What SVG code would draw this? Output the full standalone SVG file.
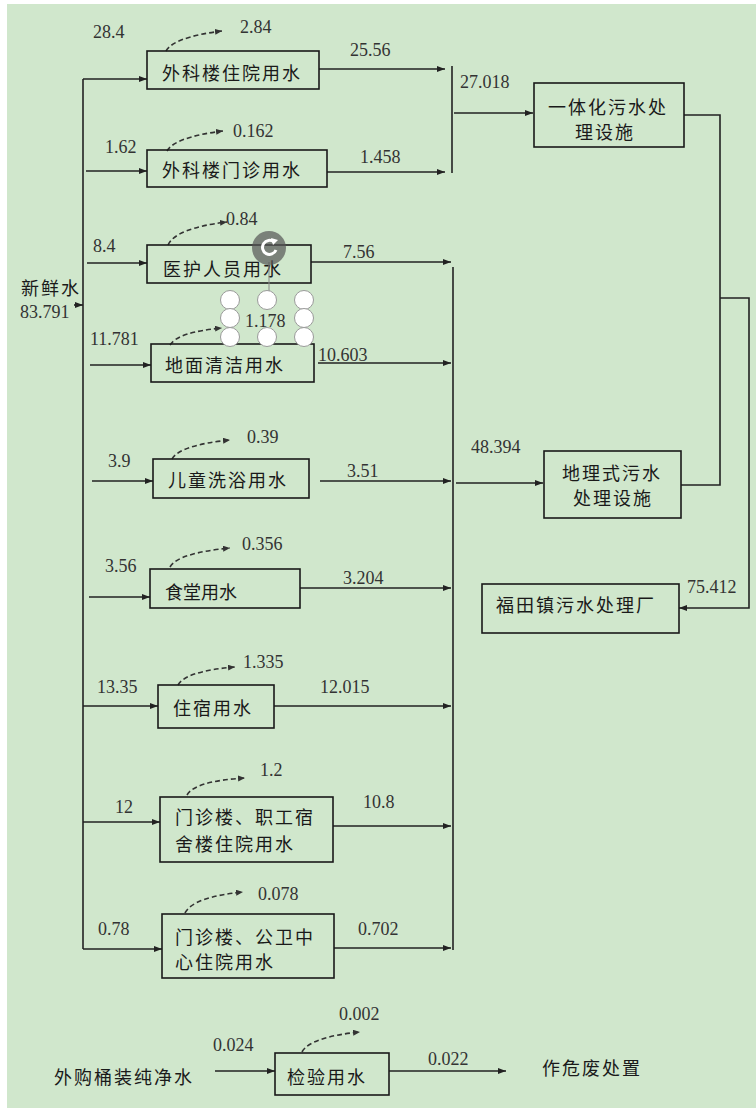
<svg xmlns="http://www.w3.org/2000/svg" width="756" height="1108" viewBox="0 0 756 1108">
<defs>
<marker id="ah" markerWidth="9" markerHeight="7" refX="8" refY="3" orient="auto" markerUnits="userSpaceOnUse"><path d="M0,0 L8,3 L0,6 z" fill="#222"/></marker>
<marker id="ahd" markerWidth="9" markerHeight="7" refX="7" refY="3" orient="auto" markerUnits="userSpaceOnUse"><path d="M0,0 L7,3 L0,6 z" fill="#333"/></marker>
<style>
.bx{fill:none;stroke:#1a1a1a;stroke-width:1.6}
.ln{fill:none;stroke:#222;stroke-width:1.6}
.ar{fill:none;stroke:#222;stroke-width:1.6;marker-end:url(#ah)}
.ev{fill:none;stroke:#333;stroke-width:1.6;stroke-dasharray:5,3;marker-end:url(#ahd)}
.cj{font-family:"Noto Sans CJK SC","Noto Sans",sans-serif;font-size:18px;letter-spacing:2px;fill:#1a1a1a}
.nm{font-family:"Liberation Serif","Times New Roman",serif;font-size:18px;fill:#333}
.hd{fill:#fff;stroke:#9a9a9a;stroke-width:1}
</style>
</defs>
<rect x="7" y="4" width="749" height="1104" fill="#d0e7cc"/>

<g id="connectors">
<path class="ln" d="M83,79 V949"/>
<path class="ar" d="M74,305 H83"/>
<path class="ar" d="M83,79 H147"/>
<path class="ar" d="M86,171 H147"/>
<path class="ar" d="M87,263 H147"/>
<path class="ar" d="M90,365 H151"/>
<path class="ar" d="M92,481 H153"/>
<path class="ar" d="M89,597 H150"/>
<path class="ar" d="M83,706 H158"/>
<path class="ar" d="M83,822 H160"/>
<path class="ar" d="M83,949 H162"/>
<path class="ar" d="M319,69 H445"/>
<path class="ar" d="M327,172 H445"/>
<path class="ln" d="M452,66 V173"/>
<path class="ar" d="M454,113 H533"/>
<path class="ar" d="M311,262 H451"/>
<path class="ar" d="M318,363 H451"/>
<path class="ar" d="M320,481 H451"/>
<path class="ar" d="M300,588 H451"/>
<path class="ar" d="M274,706 H451"/>
<path class="ar" d="M333,826 H451"/>
<path class="ar" d="M334,948 H451"/>
<path class="ln" d="M453,267 V950"/>
<path class="ar" d="M456,483 H543"/>
<path class="ln" d="M684,115 H720 V485 H681"/>
<path class="ar" d="M720,298 H749 V608 H679"/>
<path class="ar" d="M215,1071 H275"/>
<path class="ar" d="M389,1071 H506"/>
<path class="ev" d="M166,51 Q174,37 222,31"/>
<path class="ev" d="M167,151 Q175,137 223,131"/>
<path class="ev" d="M168,245 Q176,228 227,222"/>
<path class="ev" d="M170,345 Q178,332 222,328"/>
<path class="ev" d="M172,459 Q180,445 230,440"/>
<path class="ev" d="M170,567 Q178,553 230,548"/>
<path class="ev" d="M178,685 Q186,671 235,667"/>
<path class="ev" d="M187,795 Q195,781 245,778"/>
<path class="ev" d="M185,913 Q193,897 243,892"/>
<path class="ev" d="M302,1052 Q310,1037 360,1032"/>
</g>

<g id="n_fresh"><text class="cj" x="21" y="295">新鲜水</text><text class="nm" x="20" y="318">83.791</text></g>
<g id="n1"><rect class="bx" x="147" y="51" width="172" height="38"/><text class="cj" x="162" y="80">外科楼住院用水</text></g>
<g id="n2"><rect class="bx" x="147" y="150" width="180" height="37"/><text class="cj" x="162" y="177">外科楼门诊用水</text></g>
<g id="n3"><rect class="bx" x="147" y="245" width="164" height="38"/><text class="cj" x="163" y="276">医护人员用水</text></g>
<g id="n4"><rect class="bx" x="151" y="344" width="163" height="38"/><text class="cj" x="165" y="372">地面清洁用水</text></g>
<g id="n5"><rect class="bx" x="153" y="459" width="156" height="39"/><text class="cj" x="168" y="487">儿童洗浴用水</text></g>
<g id="n6"><rect class="bx" x="150" y="569" width="150" height="39"/><text class="cj" x="165" y="599" style="letter-spacing:0px">食堂用水</text></g>
<g id="n7"><rect class="bx" x="158" y="685" width="116" height="43"/><text class="cj" x="173" y="715">住宿用水</text></g>
<g id="n8"><rect class="bx" x="160" y="797" width="173" height="65"/><text class="cj" x="175" y="824">门诊楼、职工宿</text><text class="cj" x="175" y="851">舍楼住院用水</text></g>
<g id="n9"><rect class="bx" x="162" y="914" width="172" height="64"/><text class="cj" x="175" y="944">门诊楼、公卫中</text><text class="cj" x="175" y="969">心住院用水</text></g>
<g id="n10"><rect class="bx" x="275" y="1053" width="114" height="42"/><text class="cj" x="287" y="1084">检验用水</text></g>
<g id="n11"><rect class="bx" x="534" y="83" width="150" height="64"/><text class="cj" x="548" y="114">一体化污水处</text><text class="cj" x="575" y="139">理设施</text></g>
<g id="n12"><rect class="bx" x="544" y="451" width="137" height="67"/><text class="cj" x="562" y="480">地理式污水</text><text class="cj" x="573" y="505">处理设施</text></g>
<g id="n13"><rect class="bx" x="482" y="584" width="197" height="49"/><text class="cj" x="496" y="612">福田镇污水处理厂</text></g>
<g id="n_buy"><text class="cj" x="54" y="1084">外购桶装纯净水</text></g>
<g id="n_haz"><text class="cj" x="542" y="1075">作危废处置</text></g>

<g id="labels">
<text class="nm" x="93" y="38">28.4</text>
<text class="nm" x="240" y="33">2.84</text>
<text class="nm" x="350" y="56">25.56</text>
<text class="nm" x="105" y="153">1.62</text>
<text class="nm" x="233" y="137">0.162</text>
<text class="nm" x="360" y="163">1.458</text>
<text class="nm" x="460" y="88">27.018</text>
<text class="nm" x="226" y="225">0.84</text>
<text class="nm" x="93" y="252">8.4</text>
<text class="nm" x="343" y="258">7.56</text>
<text class="nm" x="90" y="345">11.781</text>
<text class="nm" x="318" y="361">10.603</text>
<text class="nm" x="108" y="467">3.9</text>
<text class="nm" x="247" y="443">0.39</text>
<text class="nm" x="347" y="477">3.51</text>
<text class="nm" x="105" y="572">3.56</text>
<text class="nm" x="242" y="550">0.356</text>
<text class="nm" x="343" y="584">3.204</text>
<text class="nm" x="97" y="693">13.35</text>
<text class="nm" x="243" y="668">1.335</text>
<text class="nm" x="320" y="693">12.015</text>
<text class="nm" x="115" y="813">12</text>
<text class="nm" x="260" y="776">1.2</text>
<text class="nm" x="363" y="808">10.8</text>
<text class="nm" x="98" y="935">0.78</text>
<text class="nm" x="258" y="900">0.078</text>
<text class="nm" x="358" y="935">0.702</text>
<text class="nm" x="213" y="1051">0.024</text>
<text class="nm" x="339" y="1020">0.002</text>
<text class="nm" x="428" y="1065">0.022</text>
<text class="nm" x="471" y="453">48.394</text>
<text class="nm" x="687" y="593">75.412</text>
</g>

<g id="selection">
<line x1="269" y1="262" x2="269" y2="291" stroke="#888" stroke-width="1"/>
<circle cx="269" cy="248" r="17" fill="#555" opacity="0.7"/>
<path d="M274,242 A7,7 0 1 0 276,250" fill="none" stroke="#fff" stroke-width="3"/>
<path d="M271,238 L278,240 L273,245 z" fill="#fff"/>
<circle class="hd" cx="230" cy="300" r="9.5"/>
<circle class="hd" cx="267" cy="300" r="9.5"/>
<circle class="hd" cx="304" cy="300" r="9.5"/>
<circle class="hd" cx="230" cy="318" r="9.5"/>
<circle class="hd" cx="304" cy="318" r="9.5"/>
<circle class="hd" cx="230" cy="337" r="9.5"/>
<circle class="hd" cx="267" cy="337" r="9.5"/>
<circle class="hd" cx="304" cy="337" r="9.5"/>
<text class="nm" x="245" y="327">1.178</text>
</g>
</svg>
